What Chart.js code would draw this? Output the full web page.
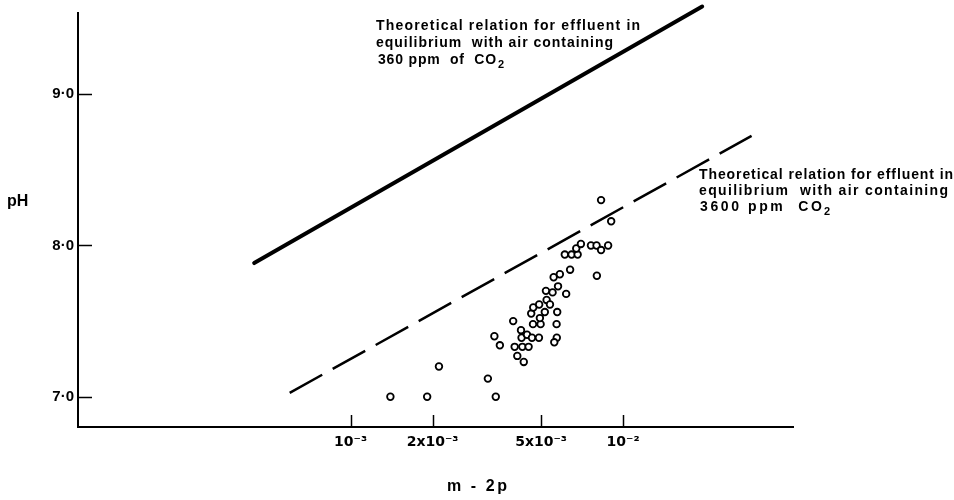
<!DOCTYPE html>
<html><head><meta charset="utf-8">
<script src="https://cdn.jsdelivr.net/npm/chart.js@4"></script>
<style>html,body{margin:0;padding:0;background:#fff}#wrap{width:954px;height:500px}</style>
</head><body><div id="wrap"><canvas id="c" width="954" height="500"></canvas></div>
<script>
// Effluent samples: m - 2p (mol/l) and measured pH
const alkalinity = [1.40e-3, 1.91e-3, 3.41e-3, 2.11e-3, 3.19e-3, 3.37e-3, 3.53e-3, 3.95e-3, 4.00e-3, 4.09e-3,
  4.32e-3, 4.27e-3, 4.50e-3, 4.22e-3, 4.24e-3, 4.44e-3, 4.63e-3, 4.91e-3, 4.67e-3, 4.98e-3,
  4.95e-3, 4.60e-3, 4.68e-3, 4.92e-3, 5.16e-3, 5.24e-3, 5.39e-3, 5.21e-3, 5.51e-3, 5.73e-3,
  5.70e-3, 5.71e-3, 5.59e-3, 5.56e-3, 5.86e-3, 5.77e-3, 6.18e-3, 6.39e-3, 6.11e-3, 6.47e-3,
  6.81e-3, 6.73e-3, 7.00e-3, 7.62e-3, 7.99e-3, 8.30e-3, 8.81e-3, 8.01e-3, 8.30e-3, 9.04e-3];
const pH = [7.00, 7.00, 7.00, 7.20, 7.12, 7.40, 7.34, 7.50, 7.33, 7.27,
  7.23, 7.33, 7.33, 7.44, 7.39, 7.41, 7.39, 7.39, 7.48, 7.48,
  7.52, 7.55, 7.59, 7.61, 7.56, 7.64, 7.61, 7.70, 7.69, 7.56,
  7.48, 7.39, 7.36, 7.79, 7.81, 7.73, 7.68, 7.84, 7.94, 7.94,
  7.94, 7.98, 8.01, 8.00, 8.00, 7.97, 8.00, 7.80, 8.30, 8.16];

// Theoretical equilibrium relations (end points)
const eq360X = [4.43e-4, 0.0195];
const eq360Y = [7.884, 9.58];
const eq3600X = [5.98e-4, 0.0296];
const eq3600Y = [7.026, 8.725];

const xTickValues = [1e-3, 2e-3, 5e-3, 1e-2];
const xTickLabels = ['10⁻³', '2x10⁻³', '5x10⁻³', '10⁻²'];
const yTickValues = [7, 8, 9];
const yTickLabels = ['7·0', '8·0', '9·0'];

const pairs = (xs, ys) => xs.map((x, i) => ({x, y: ys[i]}));
const INK = '#000';
const FONT = '"Liberation Sans", Arial, sans-serif';

// draw a line of lettering spread to a given width
function spread(ctx, text, x, y, width, size) {
  ctx.font = 'bold ' + size + 'px ' + FONT;
  ctx.letterSpacing = '0px';
  const w = ctx.measureText(text).width;
  const gap = Math.max(0, (width - w) / Math.max(1, text.length - 1));
  ctx.letterSpacing = gap.toFixed(2) + 'px';
  ctx.fillText(text, x, y);
  ctx.letterSpacing = '0px';
  return x + w + gap * (text.length - 1);
}

function withSub(ctx, main, sub, x, y, width, size) {
  const end = spread(ctx, main, x, y, width, size);
  ctx.font = 'bold ' + Math.round(size * 0.75) + 'px ' + FONT;
  ctx.fillText(sub, end + 2, y + 4);
}

const decor = {
  id: 'decor',
  afterDatasetsDraw(chart) {
    const {ctx, chartArea: a, scales: {x, y}} = chart;
    ctx.save();
    ctx.strokeStyle = INK;
    ctx.lineWidth = 1.5;
    // inward tick marks
    yTickValues.forEach(v => {
      const py = Math.round(y.getPixelForValue(v)) + 0.5;
      ctx.beginPath(); ctx.moveTo(a.left, py); ctx.lineTo(a.left + 14, py); ctx.stroke();
    });
    xTickValues.forEach(v => {
      const px = Math.round(x.getPixelForValue(v)) + 0.5;
      ctx.beginPath(); ctx.moveTo(px, a.bottom); ctx.lineTo(px, a.bottom - 12); ctx.stroke();
    });
    ctx.fillStyle = INK;
    ctx.textBaseline = 'alphabetic';
    ctx.textAlign = 'left';
    const size = 14;
    spread(ctx, 'Theoretical relation for effluent in', 376, 30, 264, size);
    spread(ctx, 'equilibrium  with air containing', 376, 47, 237, size);
    withSub(ctx, '360 ppm  of  CO', '2', 378, 64, 118, size);
    spread(ctx, 'Theoretical relation for effluent in', 699, 179, 254, size);
    spread(ctx, 'equilibrium  with air containing', 699, 195, 249, size);
    withSub(ctx, '3600 ppm  CO', '2', 700, 211, 122, size);
    // axis titles
    spread(ctx, 'pH', 7, 206, 21, 16);
    spread(ctx, 'm - 2p', 447, 491, 60, 16);
    ctx.restore();
  }
};

new Chart(document.getElementById('c'), {
  type: 'scatter',
  data: {
    datasets: [
      {
        type: 'line', data: pairs(eq360X, eq360Y), borderColor: INK, borderWidth: 4,
        pointRadius: 0, borderCapStyle: 'round', clip: false, tension: 0
      },
      {
        type: 'line', data: pairs(eq3600X, eq3600Y), borderColor: INK, borderWidth: 2.5,
        borderDash: [37.2, 12], pointRadius: 0, clip: false, tension: 0
      },
      {
        data: pairs(alkalinity, pH), pointStyle: 'circle', pointRadius: 3.3,
        borderWidth: 1.8, borderColor: INK, backgroundColor: '#fff'
      }
    ]
  },
  options: {
    responsive: false,
    animation: false,
    events: [],
    layout: {padding: {left: 0, right: 161, top: 13, bottom: 0}},
    plugins: {legend: {display: false}, tooltip: {enabled: false}},
    scales: {
      x: {
        type: 'logarithmic', min: 1e-4, max: 0.042,
        afterBuildTicks: s => { s.ticks = xTickValues.map(v => ({value: v})); },
        afterFit: s => { s.height = 73; },
        grid: {display: false, drawTicks: false},
        border: {display: true, color: INK, width: 2},
        ticks: {
          autoSkip: false, maxRotation: 0, padding: 7, color: INK,
          font: {family: '"DejaVu Sans", sans-serif', size: 14, weight: 'bold'},
          callback: (v, i) => xTickLabels[i]
        }
      },
      y: {
        type: 'linear', min: 6.8, max: 9.537,
        afterBuildTicks: s => { s.ticks = yTickValues.map(v => ({value: v})); },
        afterFit: s => { s.width = 78; },
        grid: {display: false, drawTicks: false},
        border: {display: true, color: INK, width: 2},
        ticks: {
          padding: 4, color: INK,
          font: {family: FONT, size: 15, weight: 'bold'},
          callback: (v, i) => yTickLabels[i]
        }
      }
    }
  },
  plugins: [decor]
});
</script></body></html>
